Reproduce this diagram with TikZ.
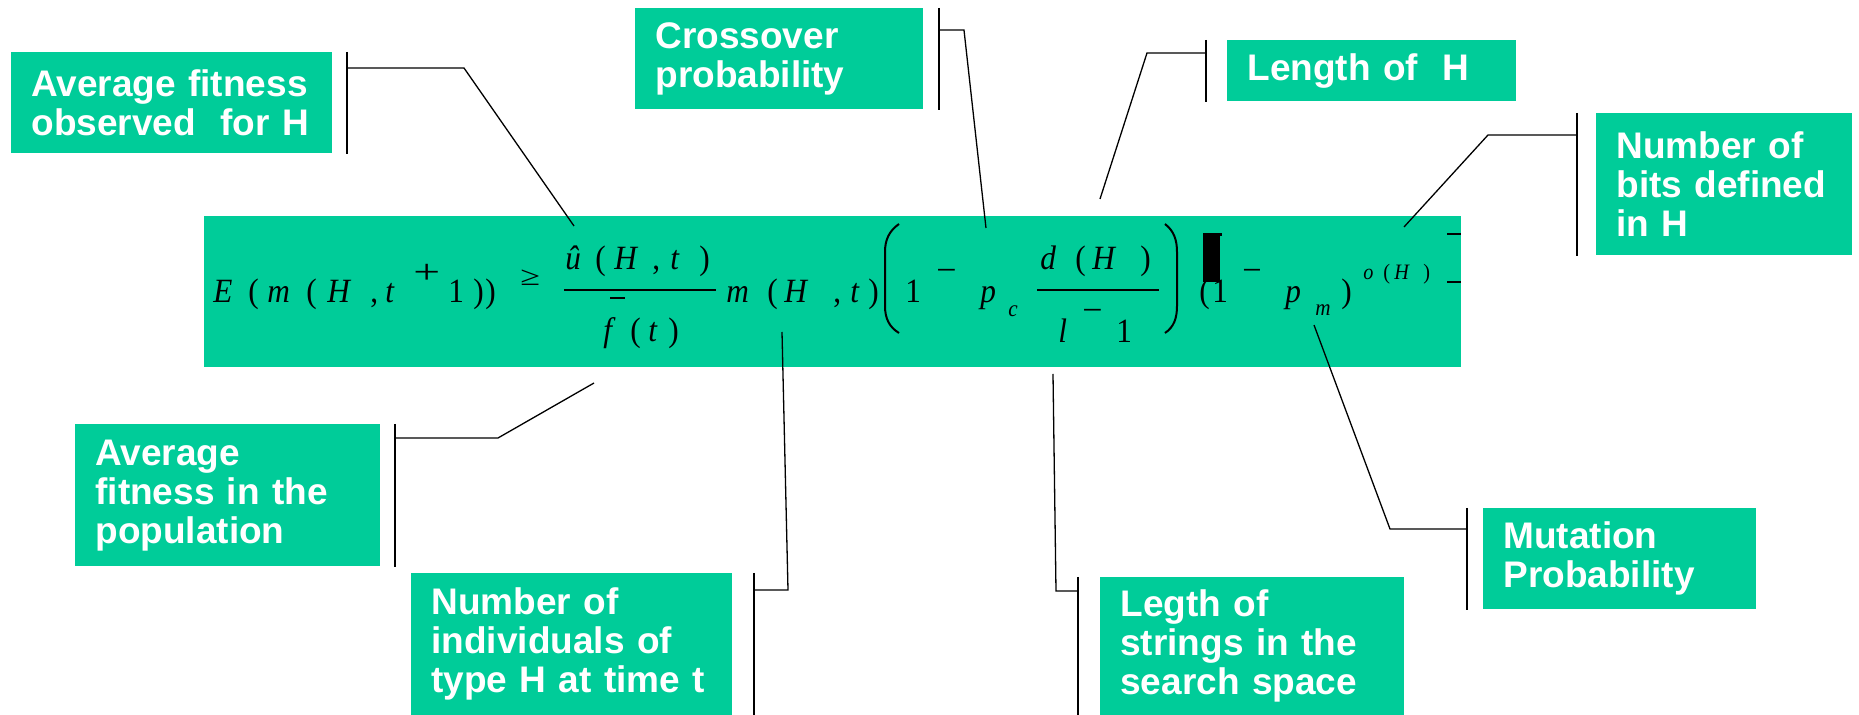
\documentclass[tikz,border=0pt]{standalone}
\usepackage{fontspec}
\newfontfamily\notefont{Liberation Sans}
\newfontfamily\eqfont{Liberation Serif}
\definecolor{notegreen}{RGB}{0,204,153}

\tikzset{
  note/.style={rectangle, fill=notegreen, text=white, anchor=north west, align=left,
    inner xsep=10pt, inner ysep=0pt, font=\notefont\bfseries\fontsize{18.5}{19.5}\selectfont},
  callout/.style={draw, line width=0.65pt},
  glyph/.style={inner sep=0pt, anchor=base west},
  strich/.style={line width=1.1pt},
}

\begin{document}
\begin{tikzpicture}[x=0.5pt, y=-0.5pt]
  \useasboundingbox (0,0) rectangle (1859,715);

  % Formelkasten
  \node[rectangle, fill=notegreen, inner sep=0pt, anchor=north west,
        minimum width=628.5pt, minimum height=75.5pt] (eq) at (204,216) {};

  % Formel: kursive Zeichen
  \foreach \px/\py/\fs/\g [count=\i] in {213/303/17/E, 267/303/17/m, 327/303/17/H, 385/303/17/t,
      565/270/17/û, 614/270/17/H, 670/270/17/t, 603/342/17/f, 648/342/17/t,
      726/303/17/m, 784/303/17/H, 850/303/17/t, 980/303/17/p, 1008/317/11.5/c,
      1040/270/17/d, 1092/270/17/H, 1058/343/17/l, 1285/303/17/p, 1315/316/11.5/m,
      1363/280/11/o, 1394/280/11/H}
    \node[glyph, font=\eqfont\itshape\fontsize{\fs}{\fs}\selectfont] (it\i) at (\px,\py)
      {\scalebox{0.92}[1]{\g}};

  % Formel: aufrechte Zeichen
  \foreach \px/\py/\fs/\g [count=\i] in {248/303/17/(, 306/303/17/(, 370/303/17/{,}, 448/303/17/1,
      473/303/17/), 485/303/17/), 413/284/17/{\scalebox{1.52}[1]{+}}, 520/286/17/{\scalebox{1.15}[0.8]{≥}},
      595/270/17/(, 652/270/17/{,}, 699/270/17/), 630/342/17/(, 668/342/17/),
      767/303/17/(, 833/303/17/{,}, 868/303/17/), 905/303/17/1, 936/282/17/{\scalebox{1.15}[1]{−}},
      1075/270/17/(, 1140/270/17/), 1082/322/17/{\scalebox{1.15}[1]{−}}, 1116/343/17/1,
      1199/303/17/(, 1212/303/17/1, 1242/282/17/{\scalebox{1.1}[1]{−}}, 1341/303/17/),
      1383/280/11/(, 1423/280/11/)}
    \node[glyph, font=\eqfont\fontsize{\fs}{\fs}\selectfont] (up\i) at (\px,\py)
      {\scalebox{0.92}[1]{\g}};

  % Bruchstriche, Klammern, Reste
  \draw[strich] (564,290) -- (716,290);
  \draw[strich] (1037,290) -- (1159,290);
  \draw[line width=1.4pt] (610,298) -- (625,298);
  \draw[line width=1pt] (899,224) .. controls (889,231) and (885,240) .. (885,252) -- (885,306)
    .. controls (885,318) and (889,327) .. (899,333);
  \draw[line width=1pt] (1165,224) .. controls (1174,231) and (1177,240) .. (1177,252) -- (1177,306)
    .. controls (1177,318) and (1174,327) .. (1165,333);
  \fill (1203,233) rectangle (1220,282);
  \fill (1203,233) rectangle (1222,236);
  \draw[strich] (1447,234) -- (1461,234);
  \draw[strich] (1447,282) -- (1461,282);

  % Beschriftungen
  \node[note, minimum width=160.5pt, minimum height=50.5pt, text width=140.5pt] (avgH) at (11,52)
    {Average fitness\\observed\ \ for H};
  \node[note, minimum width=144pt, minimum height=50.5pt, text width=124pt] (cross) at (635,8)
    {Crossover\\probability};
  \node[note, minimum width=144.5pt, minimum height=30.5pt, text width=124.5pt] (lenH) at (1227,40)
    {Length of\ \ H};
  \node[note, minimum width=128pt, minimum height=71pt, text width=108pt] (bits) at (1596,113)
    {Number of\\bits defined\\in H};
  \node[note, minimum width=152.5pt, minimum height=71pt, text width=132.5pt] (avgPop) at (75,424)
    {Average\\fitness in the\\population};
  \node[note, minimum width=160.5pt, minimum height=71pt, text width=140.5pt] (indiv) at (411,573)
    {Number of\\individuals of\\type H at time t};
  \node[note, minimum width=152pt, minimum height=69pt, text width=132pt] (legth) at (1100,577)
    {Legth of\\strings in the\\search space};
  \node[note, minimum width=136.5pt, minimum height=50.5pt, text width=116.5pt] (mut) at (1483,508)
    {Mutation\\Probability};

  % Hinweislinien: Klammer, Knick, Spitze
  \coordinate (avgH-b) at (347,68);    \coordinate (avgH-k) at (464,68);    \coordinate (avgH-t) at (574,226);
  \coordinate (cross-b) at (939,30);   \coordinate (cross-k) at (964,30);   \coordinate (cross-t) at (986,228);
  \coordinate (lenH-b) at (1206,53);   \coordinate (lenH-k) at (1147,53);   \coordinate (lenH-t) at (1100,199);
  \coordinate (bits-b) at (1577,135);  \coordinate (bits-k) at (1488,135);  \coordinate (bits-t) at (1404,227);
  \coordinate (avgPop-b) at (395,438); \coordinate (avgPop-k) at (498,438); \coordinate (avgPop-t) at (594,383);
  \coordinate (indiv-b) at (754,590);  \coordinate (indiv-k) at (788,590);  \coordinate (indiv-t) at (782,332);
  \coordinate (legth-b) at (1078,591); \coordinate (legth-k) at (1056,591); \coordinate (legth-t) at (1053,374);
  \coordinate (mut-b) at (1467,529);   \coordinate (mut-k) at (1390,529);   \coordinate (mut-t) at (1314,325);

  \foreach \n in {avgH, cross, lenH, bits, avgPop, indiv, legth, mut} {
    \draw[callout] (\n-b |- \n.north) -- (\n-b |- \n.south);
    \draw[callout] (\n-b) -- (\n-k) -- (\n-t);
  }

\end{tikzpicture}
\end{document}
